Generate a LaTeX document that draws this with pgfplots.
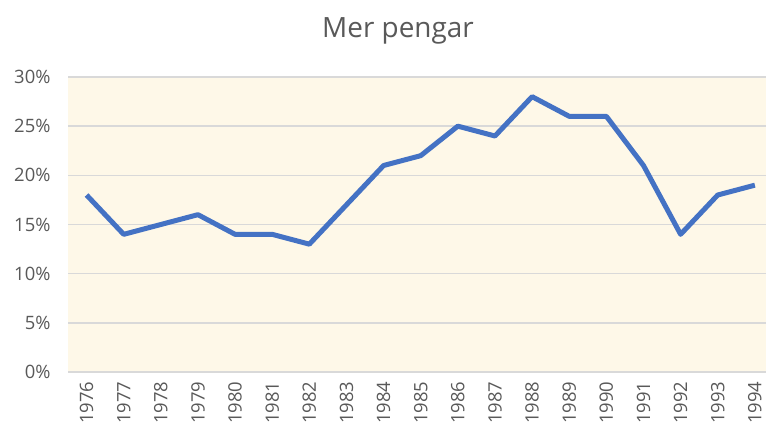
\documentclass[border=0pt]{standalone}
\usepackage{fontspec}
\setmainfont{Open Sans}
\usepackage{pgfplots}
\pgfplotsset{compat=1.18}
\definecolor{txt}{HTML}{595959}
\definecolor{grid}{HTML}{D9D9D9}
\definecolor{bg}{HTML}{FEF8E8}
\definecolor{line}{HTML}{4472C4}
\begin{document}
\begin{tikzpicture}[x=1bp,y=1bp]
\useasboundingbox (0,0) rectangle (766,428);
\fill[white] (0,0) rectangle (766,428);
\node[text=txt, font=\fontsize{28}{32}\selectfont] at (398,397) {Mer pengar};
\begin{axis}[
  at={(68bp,56bp)}, anchor=south west,
  scale only axis, width=698bp, height=295bp,
  xmin=-0.5, xmax=18.3, ymin=0, ymax=30,
  axis background/.style={fill=bg},
  axis line style={draw=none},
  axis x line*=bottom,
  xtick={0,...,18},
  xticklabels={1976,1977,1978,1979,1980,1981,1982,1983,1984,1985,1986,1987,1988,1989,1990,1991,1992,1993,1994},
  x tick label style={rotate=90, anchor=east, text=txt, font=\fontsize{18.5}{22}\selectfont},
  ytick={0,5,...,30},
  yticklabel={\pgfmathprintnumber{\tick}\%},
  y tick label style={text=txt, font=\fontsize{18.5}{22}\selectfont},
  /pgf/number format/assume math mode=true,
  ymajorgrids, grid style={draw=grid, line width=1.5bp},
  major tick length=0pt,
  xticklabel shift=6bp, yticklabel shift=14bp,
  clip=false,
]
\draw[grid, line width=2bp] (axis cs:-0.5,0) -- (axis cs:18.3,0);
\addplot[line, line width=5bp, line join=round, mark=none] coordinates {
(0,18) (1,14) (2,15) (3,16) (4,14) (5,14) (6,13) (7,17) (8,21) (9,22)
(10,25) (11,24) (12,28) (13,26) (14,26) (15,21) (16,14) (17,18) (18,19)};
\end{axis}
\end{tikzpicture}
\end{document}
